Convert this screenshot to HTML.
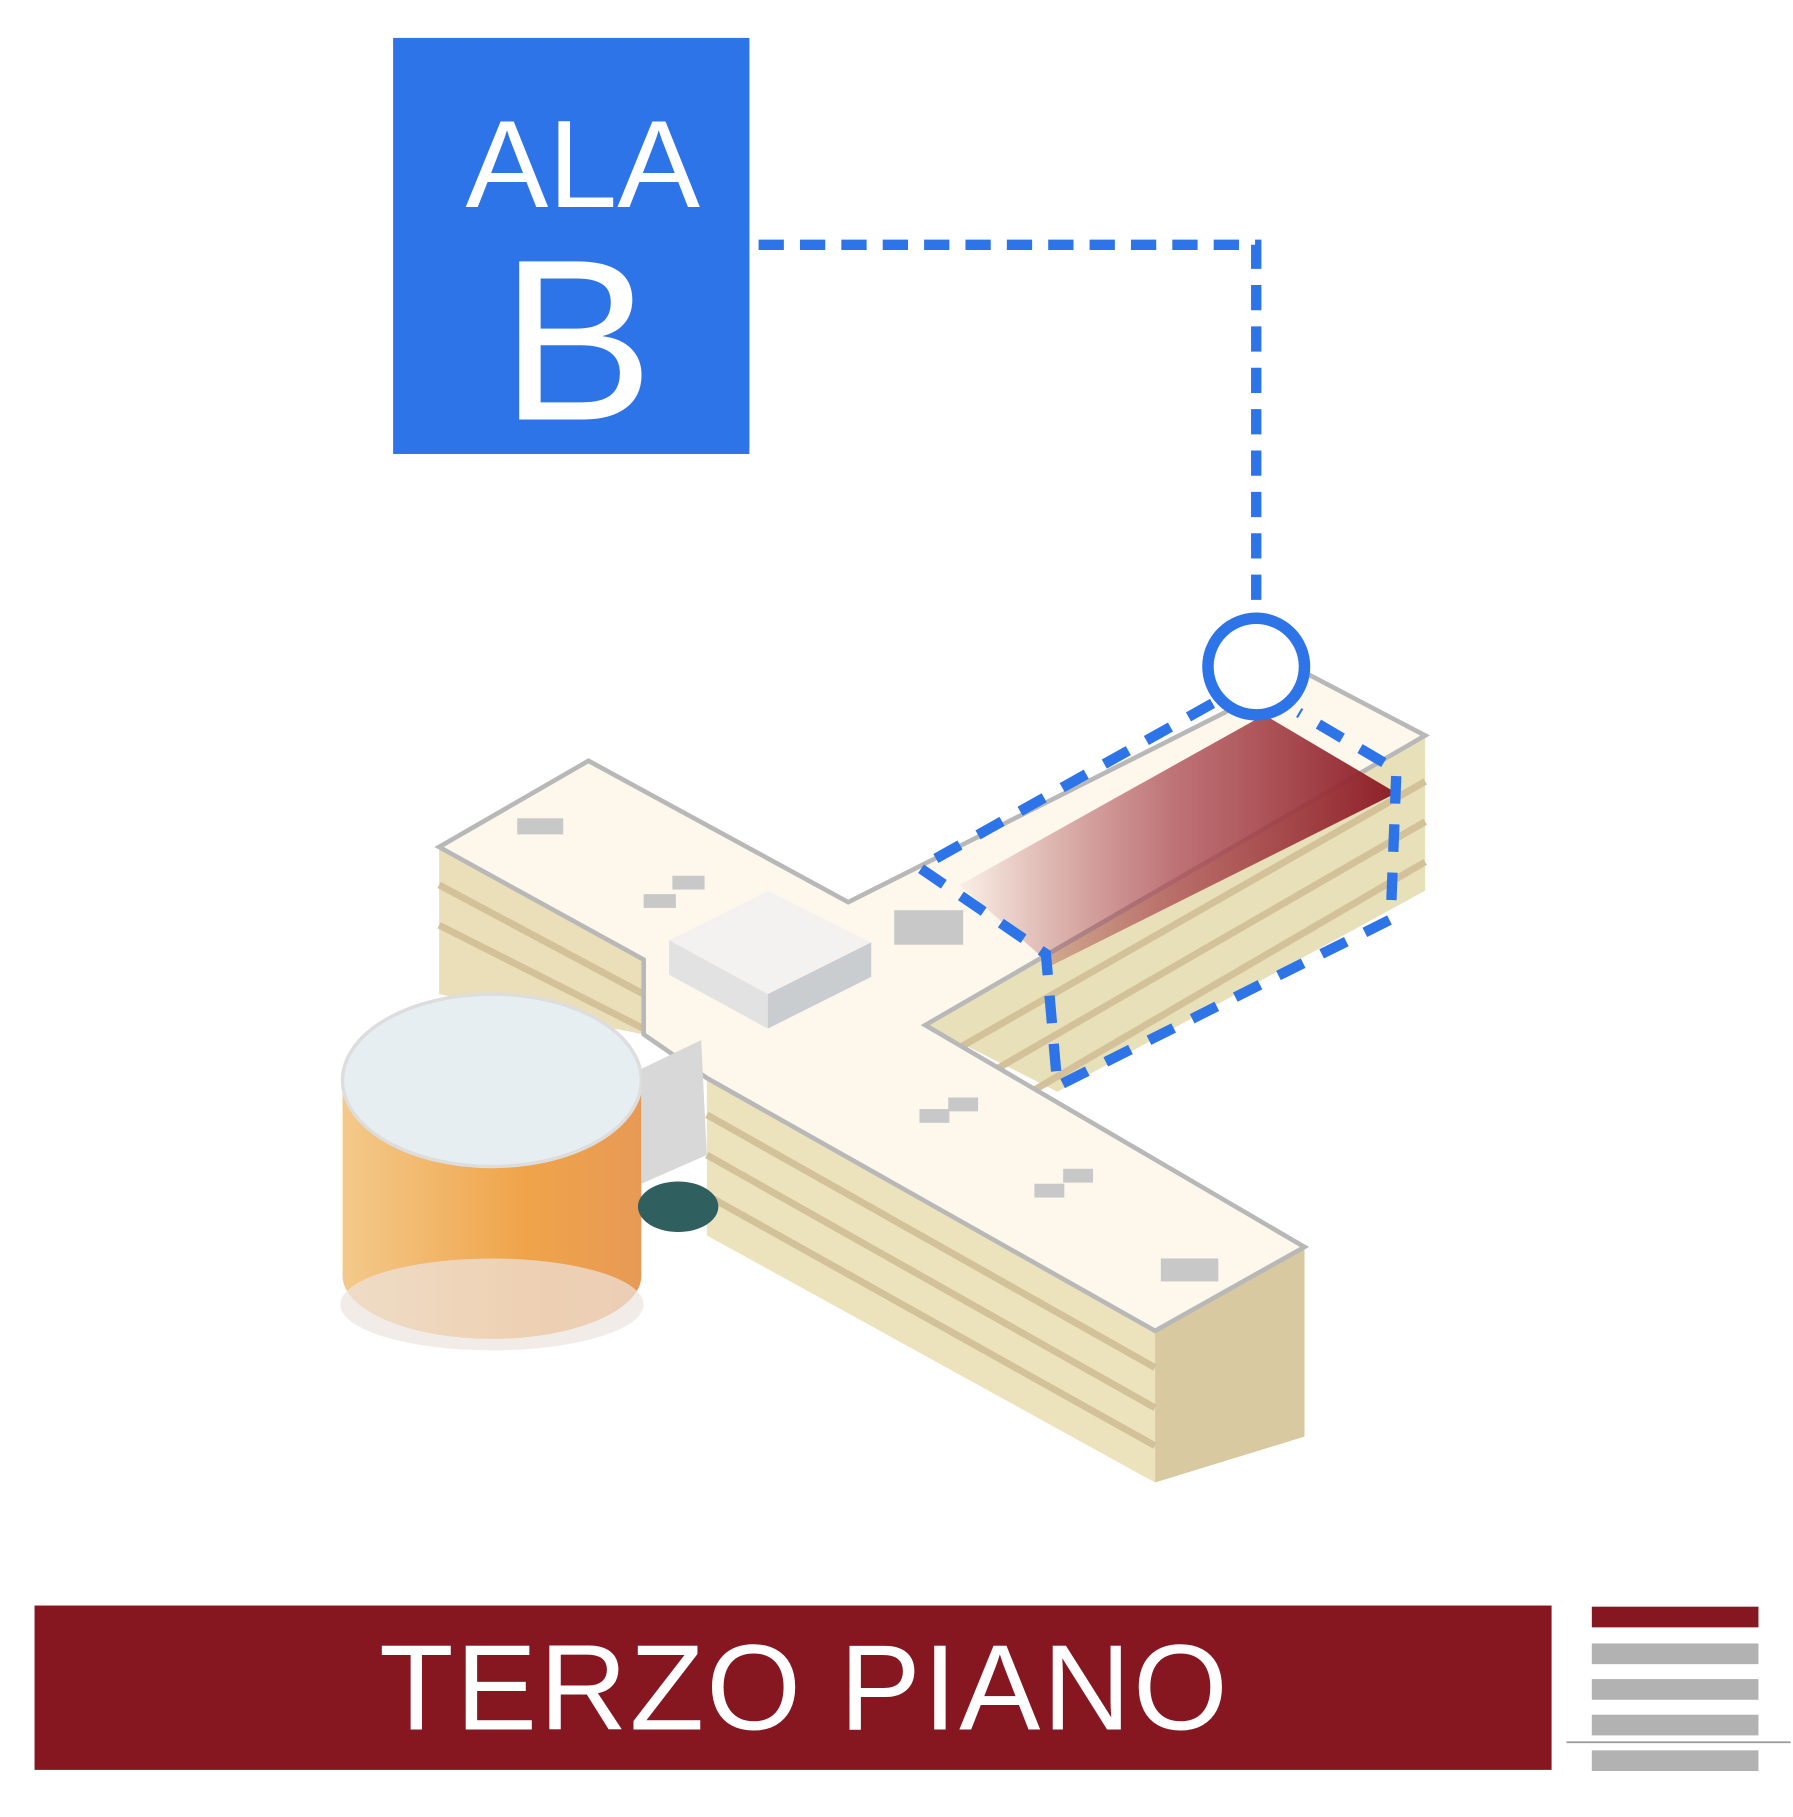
<!DOCTYPE html>
<html><head><style>
html,body{margin:0;padding:0;background:#fff;}
svg{display:block;}
</style></head><body>
<svg width="1793" height="1817" viewBox="0 0 1560 1581" xmlns="http://www.w3.org/2000/svg">
<defs>
<linearGradient id="red" x1="840" y1="0" x2="1210" y2="0" gradientUnits="userSpaceOnUse">
<stop offset="0" stop-color="#9a2a30" stop-opacity="0.05"/>
<stop offset="0.5" stop-color="#a8454d" stop-opacity="0.75"/>
<stop offset="1" stop-color="#8f222a"/>
</linearGradient>
<linearGradient id="cyl" x1="300" y1="0" x2="560" y2="0" gradientUnits="userSpaceOnUse">
<stop offset="0" stop-color="#f3c98a"/>
<stop offset="0.6" stop-color="#f0a44a"/>
<stop offset="1" stop-color="#e79a55"/>
</linearGradient>
</defs>
<rect x="342" y="33" width="310" height="362" fill="#2d74e8"/>
<text x="507" y="180" font-family="Liberation Sans, sans-serif" font-size="108" fill="#fff" text-anchor="middle">ALA</text>
<text x="502" y="365" font-family="Liberation Sans, sans-serif" font-size="200" fill="#fff" text-anchor="middle">B</text>
<path d="M660 213 H1093 V530" fill="none" stroke="#2d74e8" stroke-width="9" stroke-dasharray="22 14"/>

<polygon points="382,737 560,835 560,900 382,865" fill="#eadfb8"/>
<polygon points="615,938 1005,1158 1005,1290 615,1075" fill="#ece3bd"/>
<polygon points="1005,1158 1135,1085 1135,1250 1005,1290" fill="#d8c9a0"/>
<polygon points="805,892 1240,640 1240,775 920,950" fill="#e7e0b8"/>
<g stroke="#d3c19a" stroke-width="6">
<line x1="382" y1="770" x2="560" y2="865"/><line x1="382" y1="805" x2="560" y2="895"/>
<line x1="615" y1="970" x2="1005" y2="1190"/><line x1="615" y1="1005" x2="1005" y2="1225"/><line x1="615" y1="1040" x2="1005" y2="1258"/>
<line x1="820" y1="920" x2="1240" y2="680"/><line x1="850" y1="940" x2="1240" y2="715"/><line x1="880" y1="960" x2="1240" y2="750"/>
</g>
<polygon points="382,737 512,662 738,785 1135,585 1240,640 805,892 1135,1085 1005,1158 615,938 560,900 560,835" fill="#fdf7ec" stroke="#b8b8b8" stroke-width="4"/>
<polygon points="835,770 1100,622 1215,690 915,840" fill="url(#red)"/>
<polygon points="582,818 668,775 758,820 668,865" fill="#f4f2f0"/>
<polygon points="582,818 668,865 668,895 582,848" fill="#e2e2e2"/>
<polygon points="668,865 758,820 758,850 668,895" fill="#c9cdd0"/>
<g fill="#c8c8c8"><rect x="450" y="712" width="40" height="14"/><rect x="560" y="778" width="28" height="12"/><rect x="585" y="762" width="28" height="12"/><rect x="778" y="792" width="60" height="30"/><rect x="800" y="965" width="26" height="12"/><rect x="825" y="955" width="26" height="12"/><rect x="900" y="1030" width="26" height="12"/><rect x="925" y="1017" width="26" height="12"/><rect x="1010" y="1095" width="50" height="20"/></g>
<path d="M298 940 V1110 A130 55 0 0 0 558 1110 V940 Z" fill="url(#cyl)"/>
<ellipse cx="428" cy="1135" rx="132" ry="40" fill="#ece4e0" opacity="0.7"/>
<ellipse cx="428" cy="940" rx="130" ry="75" fill="#e7eef1" stroke="#ddd" stroke-width="3"/>
<polygon points="558,930 610,905 615,1005 558,1030" fill="#d8d8d8"/>
<ellipse cx="590" cy="1050" rx="35" ry="22" fill="#2f5f5f"/>
<path d="M1055 612 L800 755 L910 830 L920 945 L1210 800 L1215 670 L1130 620" fill="none" stroke="#2d74e8" stroke-width="9" stroke-dasharray="24 18"/>
<circle cx="1093" cy="580" r="42" fill="#fff" stroke="#2d74e8" stroke-width="10"/>

<rect x="30" y="1397" width="1320" height="143" fill="#861721"/>
<text x="700" y="1505" font-family="Liberation Sans, sans-serif" font-size="106" fill="#fff" text-anchor="middle" letter-spacing="2">TERZO PIANO</text>
<rect x="1385" y="1398" width="145" height="18" fill="#861721"/>
<rect x="1385" y="1430" width="145" height="18" fill="#b2b2b2"/>
<rect x="1385" y="1461" width="145" height="18" fill="#b2b2b2"/>
<rect x="1385" y="1492" width="145" height="18" fill="#b2b2b2"/>
<rect x="1385" y="1523" width="145" height="18" fill="#b2b2b2"/>
<line x1="1363" y1="1516" x2="1558" y2="1516" stroke="#999" stroke-width="1.5"/>
</svg>
</body></html>
